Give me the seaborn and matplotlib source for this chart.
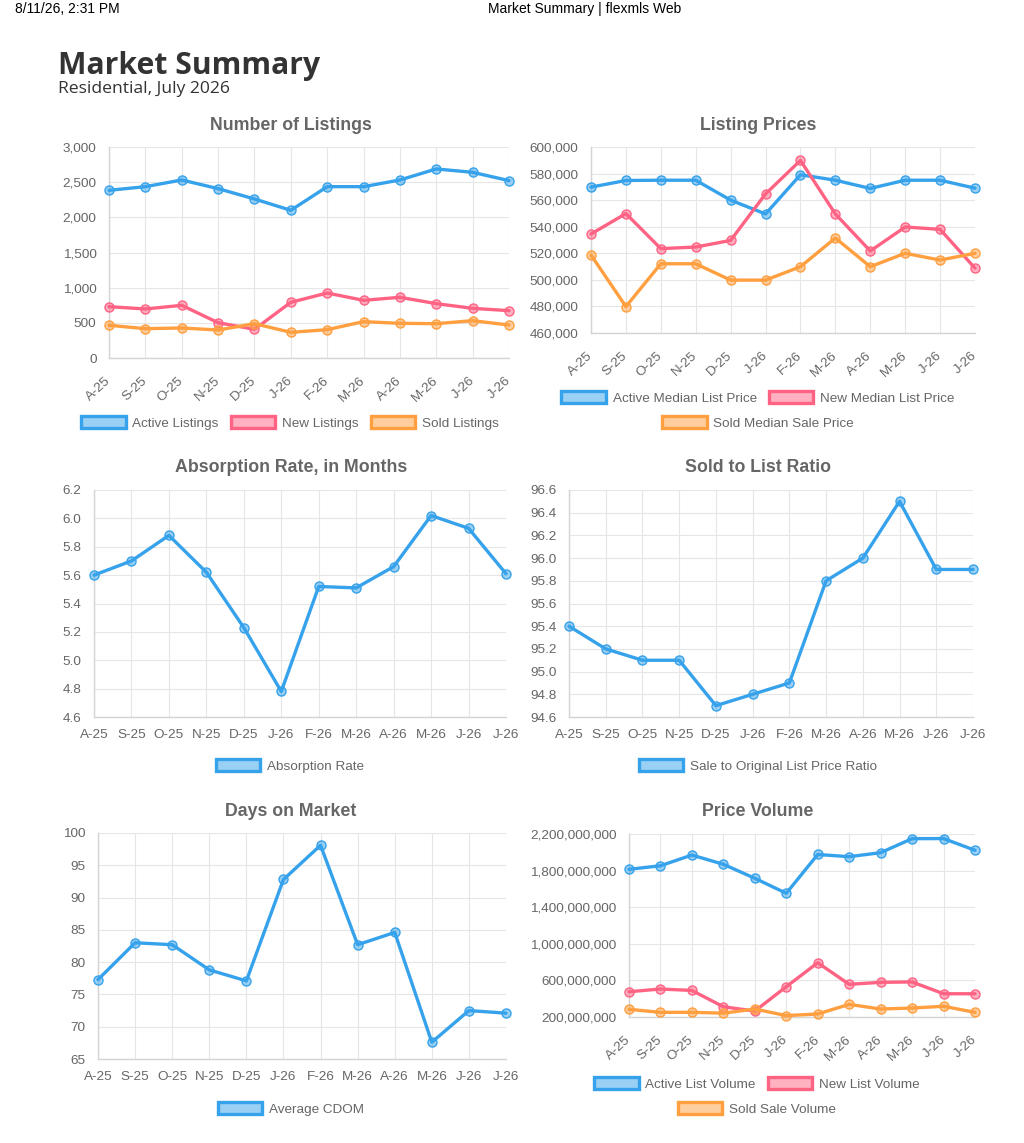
import matplotlib
matplotlib.use("Agg")
import matplotlib.pyplot as plt
import matplotlib.ticker as mticker
import numpy as np
import seaborn as sns
from matplotlib.colors import to_rgba
from matplotlib.patches import Patch

W, H = 1024, 1143

months = ["A-25", "S-25", "O-25", "N-25", "D-25", "J-26",
          "F-26", "M-26", "A-26", "M-26", "J-26", "J-26"]

active_listings = [2384, 2436, 2531, 2408, 2261, 2100, 2436, 2436, 2531, 2688, 2640, 2522]
new_listings    = [730, 697, 749, 502, 408, 792, 924, 820, 863, 773, 706, 673]
sold_listings   = [465, 417, 427, 398, 488, 365, 403, 517, 493, 488, 531, 469]

active_price = [569800, 574800, 575000, 575000, 560000, 549600, 579100, 575000, 568800, 575000, 575000, 569000]
new_price    = [534500, 549900, 523500, 524700, 529700, 564700, 589900, 549600, 521700, 539800, 538000, 508800]
sold_price   = [518700, 479900, 512100, 512100, 499800, 499800, 509900, 531500, 509900, 520000, 514900, 520000]

absorption_rate = [5.60, 5.70, 5.88, 5.62, 5.23, 4.78, 5.52, 5.51, 5.66, 6.02, 5.93, 5.61]
sale_to_list    = [95.4, 95.2, 95.1, 95.1, 94.7, 94.8, 94.9, 95.8, 96.0, 96.5, 95.9, 95.9]
average_cdom    = [77.3, 83.0, 82.7, 78.8, 77.1, 92.8, 98.1, 82.7, 84.6, 67.6, 72.5, 72.1]

active_volume = [1.814e9, 1.853e9, 1.970e9, 1.869e9, 1.716e9, 1.552e9, 1.976e9, 1.952e9, 1.996e9, 2.149e9, 2.150e9, 2.022e9]
new_volume    = [476e6, 506e6, 490e6, 312e6, 265e6, 531e6, 793e6, 557e6, 579e6, 583e6, 454e6, 454e6]
sold_volume   = [284e6, 251e6, 251e6, 242e6, 287e6, 215e6, 233e6, 338e6, 287e6, 298e6, 317e6, 251e6]

BLUE = "#36a2eb"
PINK = "#ff6384"
ORANGE = "#ff9f40"
GRID = "#e6e6e6"
TEXT = "#666666"

sns.set_theme(style="whitegrid")
plt.rcParams["font.family"] = ["Liberation Sans", "DejaVu Sans"]

fig = plt.figure(figsize=(W / 100, H / 100), dpi=100)
fig.patch.set_facecolor("white")


def fx(px):
    return px / W


def fy(py):
    return 1 - py / H


def draw_panel(rect, title, title_xy, series, ylim, step, fmt, rotate, legend_rows):
    x0, y0, x1, y1 = rect
    ax = fig.add_axes([fx(x0), fy(y1), (x1 - x0) / W, (y1 - y0) / H])
    ax.set_facecolor("white")
    xs = np.arange(len(months))
    for vals, label, color in series:
        sns.lineplot(x=xs, y=vals, ax=ax, color=color, linewidth=2.4,
                     marker="o", markersize=6.5,
                     markerfacecolor=to_rgba(color, 0.5),
                     markeredgecolor=color, markeredgewidth=1.0,
                     clip_on=False, legend=False, zorder=3)
    ax.set_xlim(0, len(months) - 1)
    ax.set_ylim(*ylim)
    ax.set_yticks(np.arange(ylim[0], ylim[1] + step / 2, step))
    ax.yaxis.set_major_formatter(mticker.FuncFormatter(fmt))
    ax.set_xticks(xs)
    if rotate:
        ax.set_xticklabels(months, rotation=43, ha="right", va="center",
                           rotation_mode="anchor")
    else:
        ax.set_xticklabels(months)
    ax.set_xlabel("")
    ax.set_ylabel("")
    ax.grid(True, color=GRID, linewidth=0.8)
    ax.tick_params(axis="both", length=6, width=0.8, color=GRID,
                   labelsize=9.7, labelcolor=TEXT, pad=3)
    if rotate:
        ax.tick_params(axis="x", pad=9)
    for side in ("top", "right"):
        ax.spines[side].set_visible(False)
    for side in ("left", "bottom"):
        ax.spines[side].set_color("#d4d4d4")
        ax.spines[side].set_linewidth(1.0)

    fig.text(fx(title_xy[0]), fy(title_xy[1]), title, ha="center", va="center",
             fontsize=12.8, fontweight="bold", color=TEXT)

    lookup = {label: color for _, label, color in series}
    for (cx, cy), labels in legend_rows:
        handles = [Patch(facecolor=to_rgba(lookup[l], 0.5), edgecolor=lookup[l],
                         linewidth=2.4) for l in labels]
        fig.legend(handles, labels, loc="center", bbox_to_anchor=(fx(cx), fy(cy)),
                   ncol=len(labels), frameon=False, fontsize=9.7,
                   labelcolor=TEXT, handlelength=3.3, handleheight=1.0,
                   handletextpad=0.5, columnspacing=0.9, borderaxespad=0)
    return ax


comma = lambda v, p: f"{v:,.0f}"
one_dec = lambda v, p: f"{v:.1f}"

draw_panel((109, 147, 509, 358), "Number of Listings", (291, 125),
           [(active_listings, "Active Listings", BLUE),
            (new_listings, "New Listings", PINK),
            (sold_listings, "Sold Listings", ORANGE)],
           (0, 3000), 500, comma, True,
           [((290, 423), ["Active Listings", "New Listings", "Sold Listings"])])

draw_panel((591, 147, 975, 333), "Listing Prices", (758, 125),
           [(active_price, "Active Median List Price", BLUE),
            (new_price, "New Median List Price", PINK),
            (sold_price, "Sold Median Sale Price", ORANGE)],
           (460000, 600000), 20000, comma, True,
           [((758, 398), ["Active Median List Price", "New Median List Price"]),
            ((758, 423), ["Sold Median Sale Price"])])

draw_panel((94, 490, 506, 717), "Absorption Rate, in Months", (291, 468),
           [(absorption_rate, "Absorption Rate", BLUE)],
           (4.6, 6.2), 0.2, one_dec, False,
           [((290, 766), ["Absorption Rate"])])

draw_panel((569, 490, 973, 717), "Sold to List Ratio", (758, 468),
           [(sale_to_list, "Sale to Original List Price Ratio", BLUE)],
           (94.6, 96.6), 0.2, one_dec, False,
           [((758, 766), ["Sale to Original List Price Ratio"])])

draw_panel((98, 833, 506, 1059), "Days on Market", (291, 811),
           [(average_cdom, "Average CDOM", BLUE)],
           (65, 100), 5, comma, False,
           [((291, 1109), ["Average CDOM"])])

draw_panel((629, 834, 975, 1017), "Price Volume", (758, 811),
           [(active_volume, "Active List Volume", BLUE),
            (new_volume, "New List Volume", PINK),
            (sold_volume, "Sold Sale Volume", ORANGE)],
           (200e6, 2200e6), 400e6, comma, True,
           [((757, 1084), ["Active List Volume", "New List Volume"]),
            ((757, 1109), ["Sold Sale Volume"])])

# page header
fig.text(fx(15), fy(13), "8/11/26, 2:31 PM", ha="left", va="baseline",
         fontsize=10, color="black")
fig.text(fx(585), fy(13), "Market Summary | flexmls Web", ha="center",
         va="baseline", fontsize=10, color="black")
fig.text(fx(58), fy(74), "Market Summary", ha="left", va="baseline",
         fontsize=21.7, fontweight="bold", color="#333333",
         family=["Open Sans", "DejaVu Sans"])
fig.text(fx(58), fy(93), "Residential, July 2026", ha="left", va="baseline",
         fontsize=12.6, color="#333333", family=["Open Sans", "DejaVu Sans"])

fig.savefig("out.png", dpi=100, facecolor="white")
